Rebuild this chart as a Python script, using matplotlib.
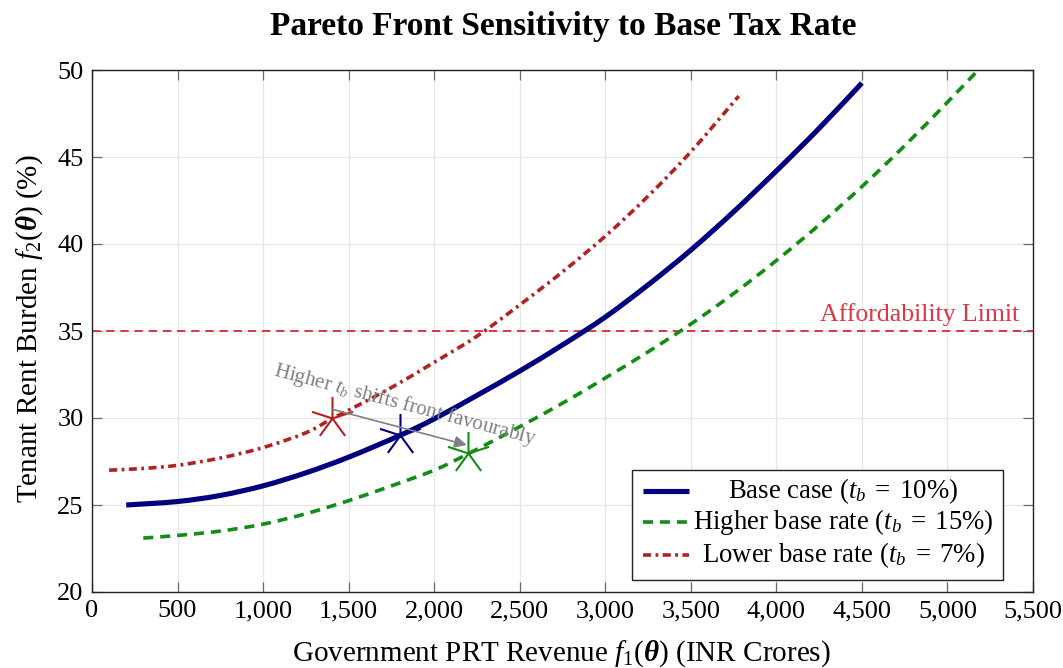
import matplotlib
matplotlib.use("Agg")
import numpy as np
import matplotlib.pyplot as plt
from matplotlib.path import Path
from matplotlib.patches import Rectangle, PathPatch
from matplotlib.lines import Line2D
from matplotlib.ticker import FixedLocator, FixedFormatter

# ---------------- data ----------------
base_x = [200, 500, 750, 1000, 1250, 1500, 1800, 2000, 2250, 2500, 2750,
          3000, 3250, 3500, 3750, 4000, 4250, 4500]
base_y = [25.0, 25.2, 25.55, 26.1, 26.85, 27.75, 29.0, 29.95, 31.3, 32.7, 34.2,
          35.8, 37.65, 39.65, 41.85, 44.2, 46.65, 49.25]

high_x = [300, 500, 750, 1000, 1250, 1500, 1750, 2000, 2200, 2500, 2750,
          3000, 3250, 3500, 3750, 4000, 4250, 4500, 4750, 5000, 5180]
high_y = [23.1, 23.25, 23.5, 23.9, 24.5, 25.25, 26.1, 27.0, 27.95, 29.5, 30.85,
          32.3, 33.8, 35.4, 37.15, 39.05, 41.1, 43.3, 45.65, 48.15, 50.0]

low_x = [100, 300, 500, 750, 1000, 1250, 1400, 1500, 1750, 2000, 2250,
         2500, 2750, 3000, 3250, 3500, 3780]
low_y = [27.0, 27.1, 27.28, 27.7, 28.3, 29.15, 29.95, 30.45, 31.75, 33.2, 34.7,
         36.5, 38.4, 40.45, 42.75, 45.3, 48.5]

# highlighted solutions on each front (low, base, high)
knee_x = [1400, 1800, 2200]
knee_y = [30, 29, 28]

afford_limit = 35

x_ticks = [0, 500, 1000, 1500, 2000, 2500, 3000, 3500, 4000, 4500, 5000, 5500]
x_tick_labels = ["0", "500", "1,000", "1,500", "2,000", "2,500", "3,000",
                 "3,500", "4,000", "4,500", "5,000", "5,500"]
y_ticks = [20, 25, 30, 35, 40, 45, 50]
y_tick_labels = ["20", "25", "30", "35", "40", "45", "50"]

labels = [r"Base case ($t_b \;=\; 10\%$)",
          r"Higher base rate ($t_b \;=\; 15\%$)",
          r"Lower base rate ($t_b \;=\; 7\%$)"]

# ---------------- style ----------------
SERIF = "Liberation Serif"
plt.rcParams.update({
    "font.family": [SERIF, "DejaVu Serif"],
    "mathtext.fontset": "custom",
    "mathtext.rm": SERIF,
    "mathtext.it": SERIF + ":italic",
    "mathtext.bf": SERIF + ":bold",
    "mathtext.bfit": SERIF + ":italic:bold",
    "lines.scale_dashes": False,
})

C_BASE = "#00007f"
C_HIGH = "#128c12"
C_LOW = "#b22222"
C_LIMIT = "#dc3545"

styles = [
    dict(color=C_BASE, lw=3.7, ls="-"),
    dict(color=C_HIGH, lw=2.6, ls=(0, (7.2, 5.0))),
    dict(color=C_LOW, lw=2.6, ls=(0, (5.8, 3.2, 2.0, 3.2))),
]


def smooth_path(xs, ys):
    """Cubic Bezier path passing through every (x, y) pair."""
    p = np.column_stack([xs, ys]).astype(float)
    n = len(p)
    verts = [p[0]]
    codes = [Path.MOVETO]
    for i in range(n - 1):
        p0 = p[i - 1] if i > 0 else p[i]
        p3 = p[i + 2] if i + 2 < n else p[i + 1]
        c1 = p[i] + (p[i + 1] - p0) / 6.0
        c2 = p[i + 1] - (p3 - p[i]) / 6.0
        verts += [c1, c2, p[i + 1]]
        codes += [Path.CURVE4] * 3
    return Path(verts, codes)


def draw_front(ax, xs, ys, style, z):
    patch = PathPatch(smooth_path(xs, ys), facecolor="none",
                      edgecolor=style["color"], lw=style["lw"],
                      linestyle=style["ls"], transform=ax.transData, zorder=z)
    patch.set_capstyle("butt")
    ax.add_patch(patch)


# five-spoke star marker
ang = np.deg2rad(90 + 72 * np.arange(5))
verts, codes = [], []
for a in ang:
    verts += [(0, 0), (np.cos(a), np.sin(a))]
    codes += [Path.MOVETO, Path.LINETO]
star = Path(verts, codes)

fig = plt.figure(figsize=(10.63, 6.68), dpi=100)
ax = fig.add_axes([92 / 1063, 1 - 592 / 668, 941 / 1063, 522 / 668])

ax.set_xlim(0, 5500)
ax.set_ylim(20, 50)

ax.grid(True, color="#e6e6e6", lw=0.9, zorder=0)
ax.set_axisbelow(True)

ax.axhline(afford_limit, color=C_LIMIT, lw=1.4, ls=(0, (6.0, 4.2)), zorder=2)
ax.text(5420, afford_limit + 0.3, "Affordability Limit", color=C_LIMIT,
        fontsize=18.5, ha="right", va="bottom")

draw_front(ax, high_x, high_y, styles[1], 3)
draw_front(ax, low_x, low_y, styles[2], 3)
draw_front(ax, base_x, base_y, styles[0], 4)

for xk, yk, c in zip(knee_x, knee_y, [C_LOW, C_BASE, C_HIGH]):
    ax.plot([xk], [yk], marker=star, ms=31, mec=c, mfc="none", mew=1.5,
            ls="none", zorder=5)

# arrow from lower-rate solution to higher-rate solution
ax.annotate("", xy=(knee_x[2] - 10, knee_y[2] + 0.45),
            xytext=(knee_x[0] + 5, knee_y[0] + 0.5),
            arrowprops=dict(arrowstyle="-|>", color="#808080", lw=1.2,
                            mutation_scale=18, shrinkA=0, shrinkB=0),
            zorder=6)
ax.text(1830, 30.75, r"Higher $t_b$ shifts front favourably", color="#808080",
        fontsize=15, rotation=-14.8, rotation_mode="anchor",
        ha="center", va="center", zorder=6)

# ticks
ax.xaxis.set_major_locator(FixedLocator(x_ticks))
ax.xaxis.set_major_formatter(FixedFormatter(x_tick_labels))
ax.yaxis.set_major_locator(FixedLocator(y_ticks))
ax.yaxis.set_major_formatter(FixedFormatter(y_tick_labels))
ax.tick_params(direction="in", length=7, width=0.9, color="#6a6a6a",
               top=True, right=True, labelsize=19, pad=6)
for s in ax.spines.values():
    s.set_linewidth(1.0)
    s.set_color("#222222")

fig.text(561.5 / 1063, 1 - 654 / 668,
         r"Government PRT Revenue $f_1(\mathbfit{\theta})$ (INR Crores)",
         fontsize=21, ha="center", va="center")
fig.text(30 / 1063, 1 - 329 / 668,
         r"Tenant Rent Burden $f_2(\mathbfit{\theta})$ (%)",
         fontsize=21, ha="center", va="center", rotation=90)
fig.text(563 / 1063, 1 - 27 / 668, "Pareto Front Sensitivity to Base Tax Rate",
         fontsize=24, fontweight="bold", ha="center", va="center")

# legend box with centred entries
bx0, bx1, by0, by1 = 0.5739, 0.9681, 0.0230, 0.2337
ax.add_patch(Rectangle((bx0, by0), bx1 - bx0, by1 - by0, transform=ax.transAxes,
                       facecolor="white", edgecolor="#222222", lw=1.0, zorder=10))
row_y = [0.1941, 0.1335, 0.0709]
for ry, st, lab in zip(row_y, styles, labels):
    ax.add_line(Line2D([0.5855, 0.6344], [ry, ry], transform=ax.transAxes,
                       zorder=11, color=st["color"], lw=st["lw"], ls=st["ls"],
                       solid_capstyle="butt", dash_capstyle="butt"))
    ax.text(0.7986, ry, lab, transform=ax.transAxes, fontsize=19.3,
            ha="center", va="center", zorder=11)

fig.savefig("out.png", dpi=100)
